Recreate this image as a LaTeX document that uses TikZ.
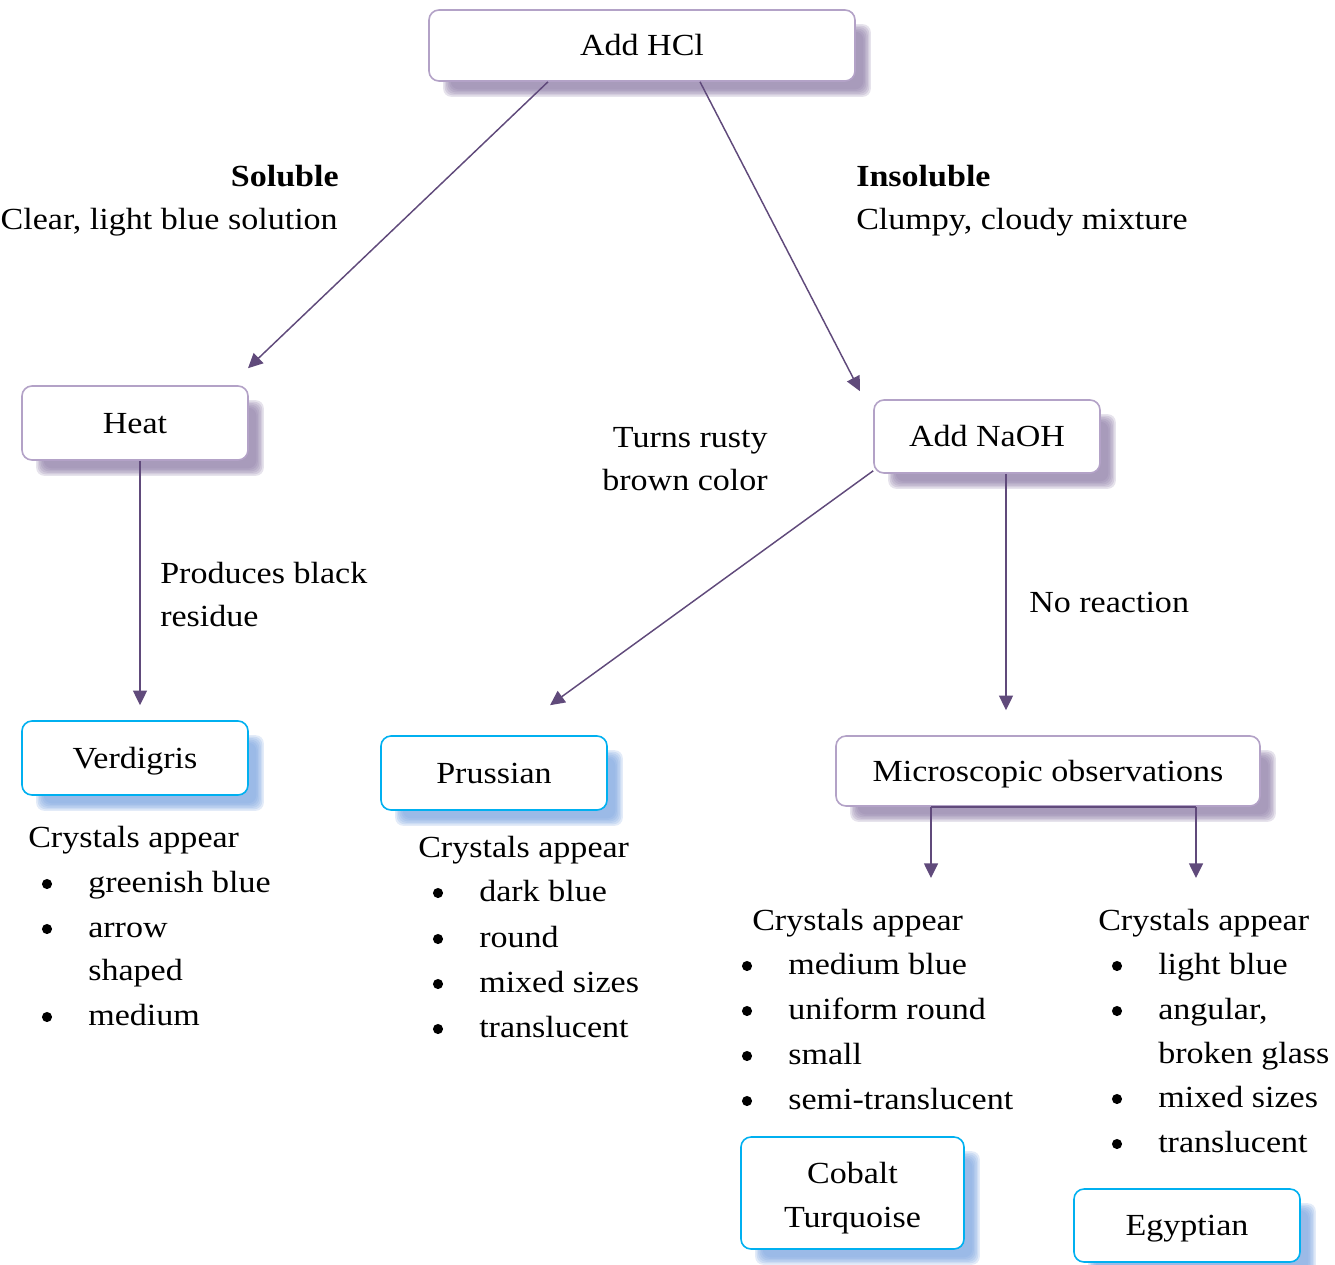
\documentclass[tikz,border=0pt]{standalone}
\usepackage{fontspec}
\setmainfont{Liberation Serif}[FakeStretch=1.11]
\usetikzlibrary{arrows.meta,backgrounds}
\definecolor{boxpurple}{HTML}{B3A2C7}
\definecolor{shpurple}{HTML}{8F7EA8}
\definecolor{arrowpurple}{HTML}{604A7B}
\definecolor{nameblue}{HTML}{00B0F0}
\definecolor{shblue}{HTML}{7EA6E0}
\newcommand\fs{\fontsize{23pt}{33pt}\selectfont}
\newcommand\boxshadow[2]{%
  \foreach \i in {0,...,5}{%
    \fill[#2, fill opacity=0.22, rounded corners=6pt]
      ([shift={(15+1.5*\i,15-1.5*\i)}]#1.south west) rectangle
      ([shift={(15-1.5*\i,15+1.5*\i)}]#1.north east);
  }}
\tikzset{
  flowbox/.style={draw=boxpurple, line width=1.2pt, rounded corners=7.5pt, fill=white,
    align=center, font=\fs, inner sep=0pt},
  namebox/.style={flowbox, draw=nameblue},
  sz/.style 2 args={minimum width=#1*0.75pt, minimum height=#2*0.75pt},
  oneline/.style={text height=20pt, text depth=5pt},
  conn/.style={draw=arrowpurple, line width=1.1pt, -{Triangle[length=11pt,width=10.5pt]}},
  plainline/.style={draw=arrowpurple, line width=1.1pt},
  lbl/.style={font=\fs, inner sep=0pt},
  bul/.style={fill=black, radius=3.8pt},
}
\begin{document}
\begin{tikzpicture}[x=0.75pt, y=-0.75pt]
\useasboundingbox (0,0) rectangle (1335,1264);
% boxes
\node[flowbox, oneline, sz={426}{71}] (hcl) at (642,45.5) {Add HCl};
\node[flowbox, oneline, sz={226}{74}] (heat) at (135,423) {Heat};
\node[flowbox, oneline, sz={226}{73}] (naoh) at (987,436.5) {Add NaOH};
\node[namebox, oneline, sz={226}{74}] (verd) at (135,758) {Verdigris};
\node[namebox, oneline, sz={226}{74}] (prus) at (494,773) {Prussian};
\node[flowbox, oneline, sz={424}{70}] (micro) at (1048,771) {Microscopic observations};
\node[namebox, text height=56pt, text depth=5pt, sz={223}{112}] (cobalt) at (852.5,1193) {Cobalt\\Turquoise};
\node[namebox, oneline, sz={226}{73}] (egypt) at (1187,1225.5) {Egyptian};
\begin{scope}[on background layer]
  \boxshadow{hcl}{shpurple}
  \boxshadow{heat}{shpurple}
  \boxshadow{naoh}{shpurple}
  \boxshadow{micro}{shpurple}
  \boxshadow{verd}{shblue}
  \boxshadow{prus}{shblue}
  \boxshadow{cobalt}{shblue}
  \boxshadow{egypt}{shblue}
\end{scope}
% connectors
\draw[conn] ([shift={(-94,0)}]hcl.south) -- ([shift={(113,-17)}]heat.north);
\draw[conn] ([shift={(58,0)}]hcl.south) -- ([shift={(-127,-8)}]naoh.north);
\draw[conn] ([shift={(5,0)}]heat.south) -- ([shift={(5,-15)}]verd.north);
\draw[conn] ([shift={(0,-3)}]naoh.south west) -- ([shift={(56,-30)}]prus.north);
\draw[conn] ([shift={(19,0)}]naoh.south) -- ([shift={(-42,-25)}]micro.north);
\coordinate (mL) at (931,878);
\coordinate (mR) at (1196,878);
\draw[plainline] ([shift={(-117,0)}]micro.south) -- ([shift={(148,0)}]micro.south);
\draw[conn] ([shift={(-117,0)}]micro.south) -- (mL);
\draw[conn] ([shift={(148,0)}]micro.south) -- (mR);
% edge labels
\node[lbl, anchor=base east] (solA) at (339,186) {\textbf{Soluble}};
\node[lbl, anchor=base east] (solB) at (338,229) {Clear, light blue solution};
\node[lbl, anchor=base west] (insA) at (856,186) {\textbf{Insoluble}};
\node[lbl, anchor=base west] (insB) at (856,229) {Clumpy, cloudy mixture};
\node[lbl, anchor=base east] (rusA) at (768,447) {Turns rusty};
\node[lbl, anchor=base east] (rusB) at (768,490) {brown color};
\node[lbl, anchor=base west] (resA) at (160,583) {Produces black};
\node[lbl, anchor=base west] (resB) at (160,626) {residue};
\node[lbl, anchor=base west] (norx) at (1029,612) {No reaction};
% Verdigris list
\node[lbl, anchor=base west] (v0) at (28,847) {Crystals appear};
\node[lbl, anchor=base west] (v1) at (88,892) {greenish blue};
\node[lbl, anchor=base west] (v2) at (88,937) {arrow};
\node[lbl, anchor=base west] (v3) at (88,980) {shaped};
\node[lbl, anchor=base west] (v4) at (88,1025) {medium};
\foreach \y in {884,929,1017} \fill[bul] (47,\y) circle;
% Prussian list
\node[lbl, anchor=base west] (p0) at (418,857) {Crystals appear};
\node[lbl, anchor=base west] (p1) at (479,901) {dark blue};
\node[lbl, anchor=base west] (p2) at (479,947) {round};
\node[lbl, anchor=base west] (p3) at (479,992) {mixed sizes};
\node[lbl, anchor=base west] (p4) at (479,1037) {translucent};
\foreach \y in {893,939,984,1029} \fill[bul] (438,\y) circle;
% Cobalt list
\node[lbl, anchor=base west] (c0) at (752,930) {Crystals appear};
\node[lbl, anchor=base west] (c1) at (788,974) {medium blue};
\node[lbl, anchor=base west] (c2) at (788,1019) {uniform round};
\node[lbl, anchor=base west] (c3) at (788,1064) {small};
\node[lbl, anchor=base west] (c4) at (788,1109) {semi-translucent};
\foreach \y in {966,1011,1056,1101} \fill[bul] (747,\y) circle;
% Egyptian list
\node[lbl, anchor=base west] (e0) at (1098,930) {Crystals appear};
\node[lbl, anchor=base west] (e1) at (1158,974) {light blue};
\node[lbl, anchor=base west] (e2) at (1158,1019) {angular,};
\node[lbl, anchor=base west] (e3) at (1158,1063) {broken glass};
\node[lbl, anchor=base west] (e4) at (1158,1107) {mixed sizes};
\node[lbl, anchor=base west] (e5) at (1158,1152) {translucent};
\foreach \y in {966,1011,1099,1144} \fill[bul] (1117,\y) circle;
\end{tikzpicture}
\end{document}
